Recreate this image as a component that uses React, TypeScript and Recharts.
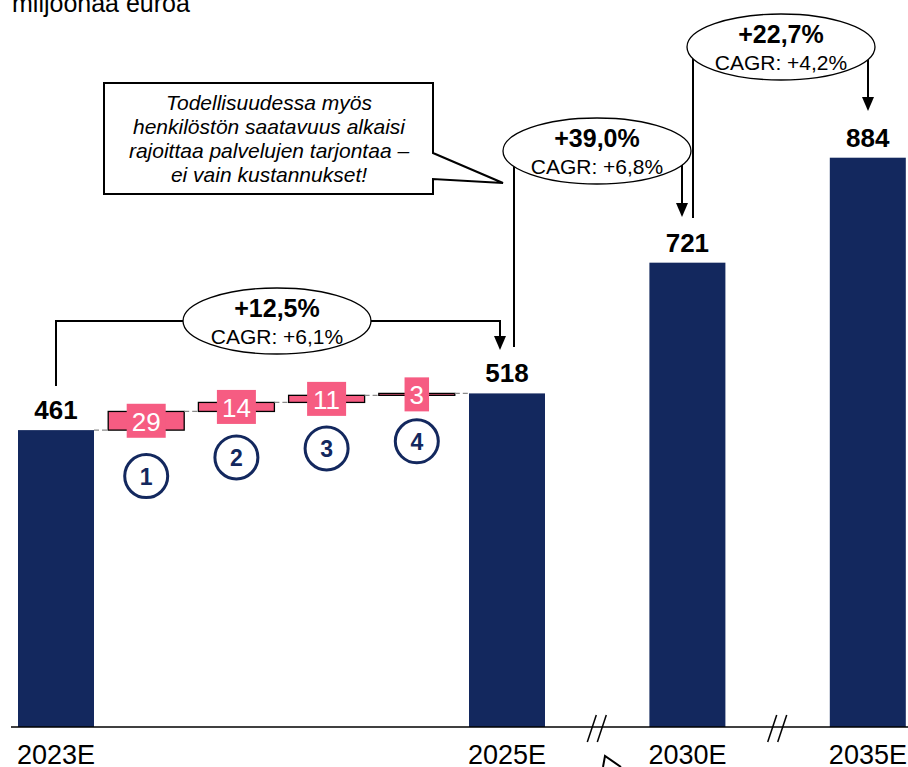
import React from 'react';
import { ComposedChart, Bar, XAxis, YAxis } from 'recharts';

// values in million euros
const categories = ['2023E', 'd1', 'd2', 'd3', 'd4', '2025E', 'gap1', '2030E', 'gap2', '2035E'];
const tickLabels = ['2023E', '', '', '', '', '2025E', '', '2030E', '', '2035E'];
const totals = [461, null, null, null, null, 518, null, 721, null, 884];
const increments = [null, 29, 14, 11, 3, null, null, null, null, null];
const driverNumbers = [null, 1, 2, 3, 4, null, null, null, null, null];
const axisBreaks = [false, false, false, false, false, false, true, false, true, false];

const growthLabels = ['+12,5%', '+39,0%', '+22,7%'];
const cagrLabels = ['CAGR: +6,1%', 'CAGR: +6,8%', 'CAGR: +4,2%'];
const calloutLines = [
  'Todellisuudessa myös',
  'henkilöstön saatavuus alkaisi',
  'rajoittaa palvelujen tarjontaa –',
  'ei vain kustannukset!',
];
const unitLabel = 'miljoonaa euroa';

const W = 908;
const H = 767;
const CHART_W = 913;
const PLOT_LEFT = 11;
const PLOT_TOP = 83;
const AXIS_Y = 727;
const BAND = (CHART_W - PLOT_LEFT) / categories.length;
const BAR_W = 76;
const GAP = BAND - BAR_W;

const NAVY = '#13285E';
const PINK = '#F65C82';
const FONT = '"Liberation Sans", Arial, sans-serif';

let running = 0;
const rows = categories.map((key, i) => {
  if (totals[i] != null) {
    running = totals[i] as number;
    return { key, base: 0, value: totals[i], kind: 'total', connect: i === 0 };
  }
  if (increments[i] != null) {
    const base = running;
    running += increments[i] as number;
    return { key, base, value: increments[i], kind: 'delta', no: driverNumbers[i], connect: true };
  }
  return { key, base: null, value: null, kind: 'gap', connect: false };
});

const ValueBar = (props: any) => {
  const { x, y, width, height, payload } = props;
  if (payload == null || payload.value == null) return null;
  const cx = x + width / 2;
  const connector = payload.connect ? (
    <line x1={x + width} x2={x + width + GAP} y1={y} y2={y} stroke="#8a8a8a" strokeWidth={1.2} strokeDasharray="5 3" />
  ) : null;

  if (payload.kind === 'total') {
    return (
      <g>
        <rect x={x} y={y} width={width} height={height} fill={NAVY} />
        {connector}
        <text x={cx} y={y - 20} textAnchor="middle" dominantBaseline="central" fontFamily={FONT} fontWeight="bold" fontSize={26} fill="#000">
          {payload.value}
        </text>
      </g>
    );
  }

  const txt = String(payload.value);
  const boxW = txt.length * 14.5 + 10;
  const midY = y + height / 2;
  const circleY = y + height + 46;
  return (
    <g>
      <rect x={x} y={y} width={width} height={height} fill={PINK} stroke="#000" strokeWidth={1.3} />
      {connector}
      <rect x={cx - boxW / 2} y={midY - 17} width={boxW} height={34} fill={PINK} />
      <text x={cx} y={midY + 1} textAnchor="middle" dominantBaseline="central" fontFamily={FONT} fontSize={26} fill="#fff">
        {txt}
      </text>
      <circle cx={cx} cy={circleY} r={21.5} fill="#fff" stroke={NAVY} strokeWidth={3} />
      <text x={cx} y={circleY + 1} textAnchor="middle" dominantBaseline="central" fontFamily={FONT} fontWeight="bold" fontSize={23} fill={NAVY}>
        {payload.no}
      </text>
    </g>
  );
};

const AxisTick = (props: any) => {
  const { x, payload } = props;
  const i = categories.indexOf(payload.value);
  if (i < 0) return null;
  if (axisBreaks[i]) {
    return (
      <g stroke="#000" strokeWidth={1.5}>
        <line x1={x - 10} y1={AXIS_Y + 15} x2={x - 1} y2={AXIS_Y - 12} />
        <line x1={x} y1={AXIS_Y + 15} x2={x + 9} y2={AXIS_Y - 12} />
      </g>
    );
  }
  return (
    <text x={x} y={AXIS_Y + 37} textAnchor="middle" fontFamily={FONT} fontSize={27} fill="#000">
      {tickLabels[i]}
    </text>
  );
};

// growth brackets: from one bar label, up to the ellipse, across and down with an arrow
const brackets = [
  { x1: 56, y1: 386, x2: 500, y2: 350, ex: 277, ey: 321 },
  { x1: 514, y1: 347, x2: 682, y2: 217, ex: 597, ey: 151 },
  { x1: 693, y1: 218, x2: 868, y2: 111, ex: 781, ey: 47 },
];

const Overlay = () => (
  <svg width={W} height={H} style={{ position: 'absolute', left: 0, top: 0, pointerEvents: 'none' }}>
    <text x={12} y={12} fontFamily={FONT} fontSize={25} fill="#000">{unitLabel}</text>

    <polygon
      points="104,83 433,83 433,153 503,183 433,179 433,194 104,194"
      fill="#fff"
      stroke="#000"
      strokeWidth={2}
      strokeLinejoin="miter"
    />
    {calloutLines.map((line, i) => (
      <text key={i} x={269} y={102 + i * 24} textAnchor="middle" dominantBaseline="central" fontFamily={FONT} fontStyle="italic" fontSize={21} fill="#000">
        {line}
      </text>
    ))}

    {brackets.map((b, i) => (
      <g key={i}>
        <polyline
          points={`${b.x1},${b.y1} ${b.x1},${b.ey} ${b.x2},${b.ey} ${b.x2},${b.y2 - 12}`}
          fill="none"
          stroke="#000"
          strokeWidth={2}
        />
        <polygon points={`${b.x2 - 6},${b.y2 - 14} ${b.x2 + 6},${b.y2 - 14} ${b.x2},${b.y2}`} fill="#000" />
        <ellipse cx={b.ex} cy={b.ey} rx={94} ry={33} fill="#fff" stroke="#000" strokeWidth={1.3} />
        <text x={b.ex} y={b.ey - 13} textAnchor="middle" dominantBaseline="central" fontFamily={FONT} fontWeight="bold" fontSize={25} fill="#000">
          {growthLabels[i]}
        </text>
        <text x={b.ex} y={b.ey + 15} textAnchor="middle" dominantBaseline="central" fontFamily={FONT} fontSize={21} fill="#000">
          {cagrLabels[i]}
        </text>
      </g>
    ))}

    <polyline points="603,767 605,756 621,767" fill="none" stroke="#000" strokeWidth={2} />
  </svg>
);

export default function App() {
  return (
    <div style={{ position: 'absolute', left: 0, top: 0, width: W, height: H, overflow: 'hidden', background: '#fff' }}>
      <ComposedChart
        width={CHART_W}
        height={H}
        data={rows}
        margin={{ top: PLOT_TOP, right: 0, left: PLOT_LEFT, bottom: 0 }}
      >
        <XAxis
          dataKey="key"
          interval={0}
          height={H - AXIS_Y}
          tickLine={false}
          tickSize={0}
          tickMargin={0}
          axisLine={{ stroke: '#000', strokeWidth: 1.5 }}
          tick={<AxisTick />}
        />
        <YAxis hide domain={[0, 1000]} />
        <Bar dataKey="base" stackId="w" fill="transparent" barSize={BAR_W} isAnimationActive={false} />
        <Bar dataKey="value" stackId="w" barSize={BAR_W} shape={<ValueBar />} isAnimationActive={false} />
      </ComposedChart>
      <Overlay />
    </div>
  );
}
